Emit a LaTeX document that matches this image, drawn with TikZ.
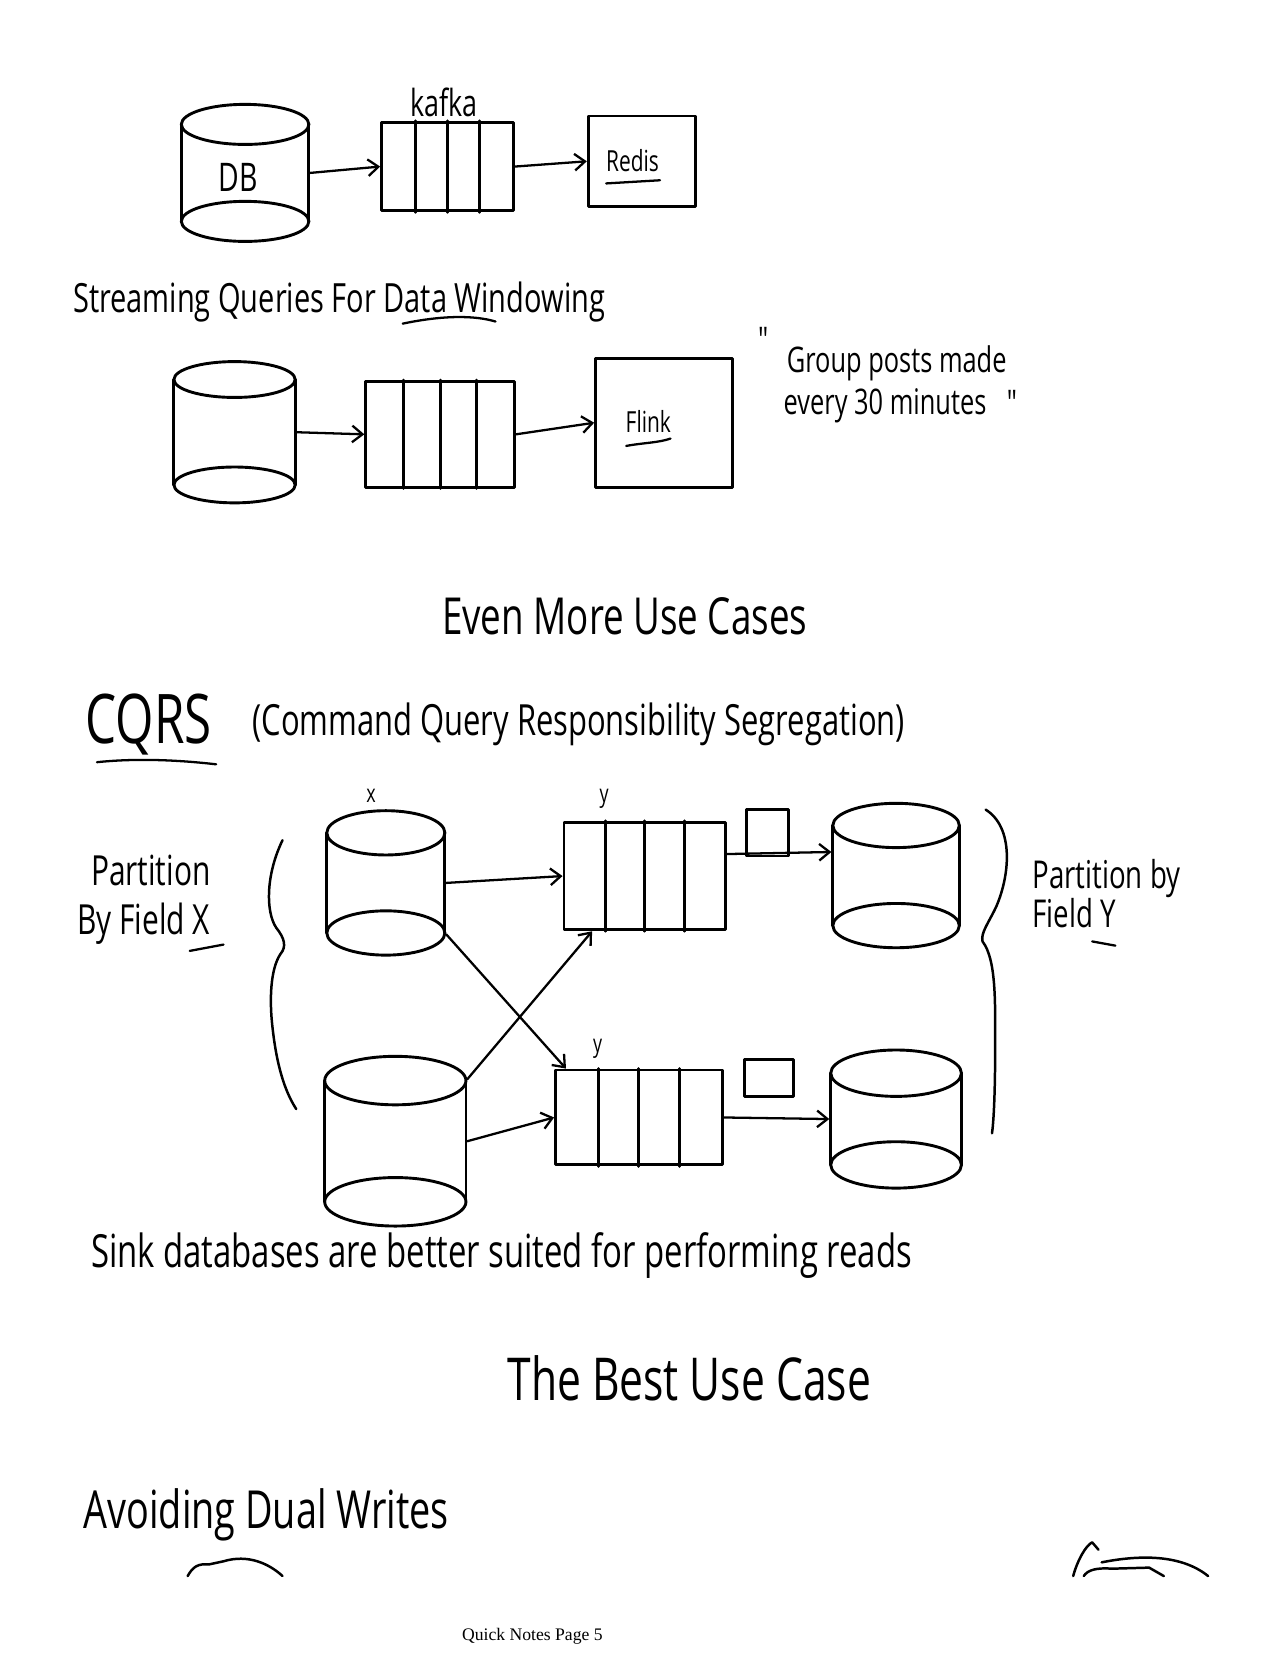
\documentclass[tikz,border=0pt]{standalone}
\usepackage{fontspec}
\setmainfont{Liberation Serif}
\newfontfamily\hand[FakeStretch=0.72]{Open Sans}
\usetikzlibrary{fit,calc,arrows.meta}

\newcommand{\dbdrum}[6]{%
  \node[inner sep=0pt, fit={(#2,#4) (#3,#5)}] (#1) {};
  \draw (#2,#4) -- (#2,#5) (#3,#4) -- (#3,#5);
  \draw ({(#2+#3)/2},#4) ellipse [x radius={(#3-#2)/2}, y radius=#6];
  \draw ({(#2+#3)/2},#5) ellipse [x radius={(#3-#2)/2}, y radius=#6];
}
\newcommand{\topicq}[5]{%
  \node[draw, inner sep=0pt, fit={(#2,#3) (#4,#5)}] (#1) {};
  \foreach \f in {0.26,0.5,0.74}
    \draw ($(#1.north west)!\f!(#1.north east)$) -- ($(#1.south west)!\f!(#1.south east)$);
}

\begin{document}
\begin{tikzpicture}[x=0.508pt,y=-0.508pt,line width=1.4pt,line cap=round,line join=round,
  arr/.style={-{Straight Barb[length=5pt,width=8pt]},line width=1.1pt},
  txt/.style={font=\hand,anchor=base west,inner sep=0pt},
  lbl/.style={font=\hand,inner sep=0pt}]

\useasboundingbox[fill=white] (0,0) rectangle (1209,1568);

\dbdrum{db}{172}{293}{118}{210}{19}
\topicq{kafka}{362}{116}{487}{200}
\node[draw, inner sep=0pt, fit={(558,110) (660,196)}] (redis) {};
\node[lbl, font=\hand\fontsize{19}{22}\selectfont] (dbtxt) at (226,168) {DB};
\node[lbl, font=\hand\fontsize{18}{22}\selectfont] (kafkatxt) at (421,97) {kafka};
\node[lbl, font=\hand\fontsize{14}{17}\selectfont] (redistxt) at (600,152) {Redis};
\draw[line width=1.1pt] (575,174) -- (626,171);
\draw[arr] (db.east) -- (kafka.west);
\draw[arr] (kafka.east) -- (redis.west);

\node[txt, font=\hand\fontsize{19.4}{23}\selectfont] (stream) at (68,296) {Streaming Queries For Data Windowing};
\draw[line width=1.1pt] (382,307) .. controls (420,299) and (450,299) .. (470,305);

\dbdrum{src}{165}{280}{360}{460}{17}
\topicq{topic}{347}{362}{488}{462}
\node[draw, inner sep=0pt, fit={(565,340) (695,462)}] (flink) {};
\node[lbl, font=\hand\fontsize{14}{17}\selectfont] (flinktxt) at (615,400) {Flink};
\draw[line width=1.1pt] (594,423) .. controls (610,420) and (625,420) .. (636,416);
\draw[arr] (src.east) -- (topic.west);
\draw[arr] (topic.east) -- (flink.west);

\node[lbl, font=\hand\fontsize{17}{20}\selectfont] (qopen) at (724,322) {"};
\node[txt, font=\hand\fontsize{17}{20}\selectfont] (quote1) at (745,353) {Group posts made};
\node[txt, font=\hand\fontsize{17}{20}\selectfont] (quote2) at (742,393) {every 30 minutes};
\node[lbl, font=\hand\fontsize{17}{20}\selectfont] (qclose) at (960,382) {"};

\node[txt, font=\hand\fontsize{24.6}{29}\selectfont] (even) at (418,602) {Even More Use Cases};

\node[txt, font=\hand\fontsize{33}{37}\selectfont] (cqrs) at (80,705) {CQRS};
\draw[line width=1.1pt] (92,723) .. controls (130,719) and (170,721) .. (205,725);
\node[txt, font=\hand\fontsize{20.7}{24}\selectfont] (cqrslong) at (238,698) {(Command Query Responsibility Segregation)};

\node[lbl, font=\hand\fontsize{12}{14}\selectfont] (xtxt) at (352,755) {x};
\node[lbl, font=\hand\fontsize{12}{14}\selectfont] (ytxta) at (573,758) {y};
\node[lbl, font=\hand\fontsize{12}{14}\selectfont] (ytxtb) at (567,995) {y};

\dbdrum{xa}{310}{422}{790}{885}{21}
\dbdrum{xb}{308}{442}{1025}{1140}{23}
\topicq{ya}{535}{780}{688}{882}
\topicq{yb}{527}{1015}{685}{1105}
\node[draw, inner sep=0pt, fit={(708,768) (748,812)}] (msga) {};
\node[draw, inner sep=0pt, fit={(706,1005) (753,1040)}] (msgb) {};
\dbdrum{sa}{790}{910}{783}{878}{21}
\dbdrum{sb}{788}{912}{1018}{1105}{22}

\draw[arr] (xa.east) -- (ya.west);
\draw[arr] (ya.15) -- (sa.160);
\draw[arr] (xb.east) -- (yb.west);
\draw[arr] (yb.east) -- (sb.west);
\draw[arr] (xa.south east) -- ($(yb.north west)!0.07!(yb.north east)$);
\draw[arr] (xb.north east) -- ($(ya.south west)!0.18!(ya.south east)$);

\draw[line width=1.2pt] (268,797) .. controls (252,830) and (252,865) .. (262,880)
  .. controls (270,890) and (272,898) .. (266,905)
  .. controls (256,920) and (256,950) .. (258,970)
  .. controls (262,1010) and (270,1035) .. (281,1052);
\draw[line width=1.2pt] (935,768) .. controls (962,785) and (958,830) .. (945,860)
  .. controls (938,875) and (930,885) .. (932,893)
  .. controls (945,910) and (944,950) .. (944,990)
  .. controls (944,1030) and (943,1060) .. (941,1075);

\node[txt, font=\hand\fontsize{20}{24}\selectfont] (partl1) at (85,840) {Partition};
\node[txt, font=\hand\fontsize{20}{24}\selectfont] (partl2) at (72,886) {By Field X};
\draw[line width=1.1pt] (180,902) -- (212,896);
\node[txt, font=\hand\fontsize{18.5}{22}\selectfont] (partr1) at (978,843) {Partition by};
\node[txt, font=\hand\fontsize{18.5}{22}\selectfont] (partr2) at (978,880) {Field Y};
\draw[line width=1.1pt] (1036,893) -- (1058,897);

\node[txt, font=\hand\fontsize{22}{26}\selectfont] (sink) at (85,1202) {Sink databases are better suited for performing reads};
\node[txt, font=\hand\fontsize{28.5}{33}\selectfont] (best) at (480,1328) {The Best Use Case};
\node[txt, font=\hand\fontsize{25.3}{30}\selectfont] (dual) at (78,1450) {Avoiding Dual Writes};

\draw[line width=1.2pt] (178,1495) .. controls (183,1486) and (188,1483) .. (198,1484)
  -- (212,1481) .. controls (235,1474) and (255,1483) .. (268,1495);
\draw[line width=1.2pt] (1018,1495) .. controls (1022,1480) and (1030,1466) .. (1036,1463)
  -- (1042,1470);
\draw[line width=1.2pt] (1045,1482) .. controls (1080,1475) and (1120,1474) .. (1146,1495);
\draw[line width=1.2pt] (1028,1495) .. controls (1032,1489) and (1040,1487) .. (1055,1488)
  -- (1090,1487) -- (1104,1495);

\node[inner sep=0pt, font=\fontsize{8.5}{10}\selectfont] (footer) at (505,1552) {Quick Notes Page 5};
\end{tikzpicture}
\end{document}
